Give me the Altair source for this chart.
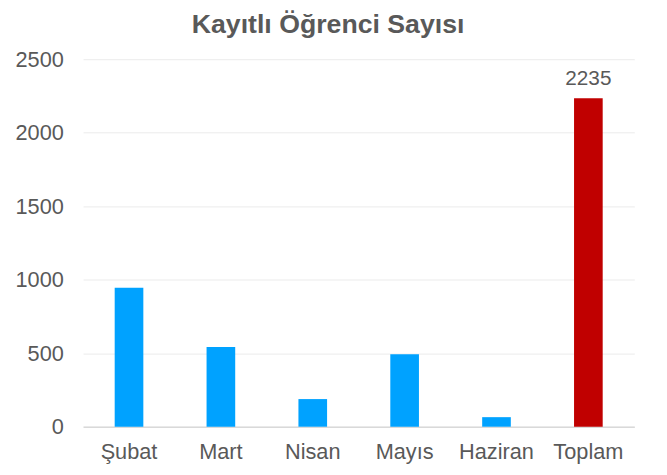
import altair as alt
import pandas as pd

months = ["Şubat", "Mart", "Nisan", "Mayıs", "Haziran", "Toplam"]
counts = [946, 543, 188, 493, 65, 2235]
kinds = ["ay", "ay", "ay", "ay", "ay", "toplam"]

df = pd.DataFrame({"ay": months, "sayi": counts, "tur": kinds})

FONT = "Liberation Sans"
GREY = "#595959"

x = alt.X("ay:N", sort=months, title=None,
          scale=alt.Scale(paddingInner=0, paddingOuter=0),
          axis=alt.Axis(labelAngle=0, labelFontSize=22, labelColor=GREY, labelFont=FONT,
                        ticks=False, domainColor="#d9d9d9", domainWidth=1.5, labelPadding=15))
y = alt.Y("sayi:Q", title=None,
          scale=alt.Scale(domain=[0, 2500], nice=False),
          axis=alt.Axis(values=[0, 500, 1000, 1500, 2000, 2500], format="d", labelFontSize=22,
                        labelColor=GREY, labelFont=FONT, ticks=False, domain=False,
                        gridColor="#ebebeb", labelPadding=20))

bars = alt.Chart(df).mark_bar(size=29).encode(
    x=x, y=y,
    color=alt.Color("tur:N", scale=alt.Scale(domain=["ay", "toplam"], range=["#00A2FF", "#C00000"]),
                    legend=None),
)

label = alt.Chart(df).transform_filter(alt.datum.tur == "toplam").mark_text(
    dy=-9, baseline="bottom", fontSize=21, font=FONT, color=GREY
).encode(x=alt.X("ay:N", sort=months), y="sayi:Q", text="sayi:Q")

chart = (bars + label).properties(
    width=558, height=372,
    title=alt.TitleParams("Kayıtlı Öğrenci Sayısı", fontSize=27, font=FONT, fontWeight="bold",
                          color=GREY, offset=10, dx=-31),
    autosize=alt.AutoSizeParams(type="none"),
    padding={"left": 76, "top": 49, "right": 25, "bottom": 44},
).configure_view(stroke=None)

chart.save("out.html", embed_options={"renderer": "svg", "actions": False})
